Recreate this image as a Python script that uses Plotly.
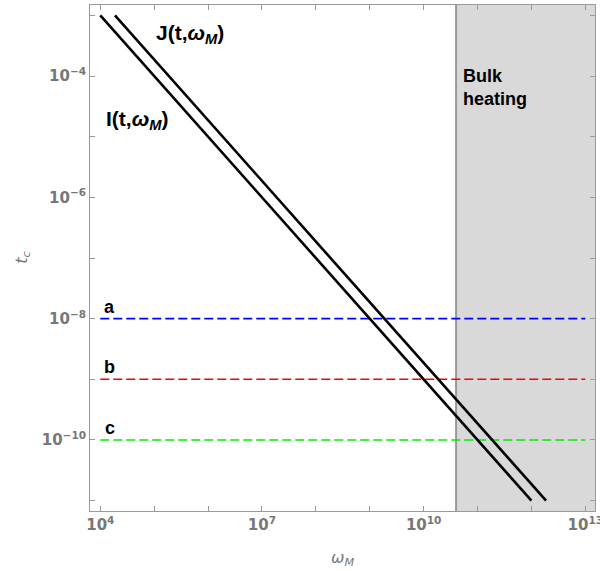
import plotly.graph_objects as go
import math

# ---- data ----
omega_I = [1e4, 1e12]
t_I = [1e-3, 1e-11]
omega_J = [1.87e4, 1.87e12]
t_J = [1e-3, 1e-11]

omega_h = [1e4, 1e13]
t_a = [1e-8, 1e-8]
t_b = [1e-9, 1e-9]
t_c = [1e-10, 1e-10]

omega_bulk = 4e10

x_tickvals = [10**k for k in range(4, 14)]
x_ticktext = ["10<sup>4</sup>", "", "", "10<sup>7</sup>", "", "", "10<sup>10</sup>", "", "", "10<sup>13</sup>"]
y_tickvals = [10**k for k in range(-11, -2)]
y_ticktext = ["", "10<sup>−10</sup>", "", "10<sup>−8</sup>", "", "10<sup>−6</sup>", "", "10<sup>−4</sup>", ""]

fig = go.Figure()

fig.add_shape(type="rect", xref="x", yref="paper", x0=omega_bulk, x1=1e14,
              y0=0, y1=1, fillcolor="#d9d9d9", line_width=0, layer="below")
fig.add_shape(type="line", xref="x", yref="paper", x0=omega_bulk, x1=omega_bulk,
              y0=0, y1=1, line=dict(color="#999999", width=2), layer="below")

for y, col in [(t_a, "#0000ff"), (t_b, "#ff0000"), (t_c, "#00ee00")]:
    fig.add_trace(go.Scatter(x=omega_h, y=y, mode="lines",
                             line=dict(color=col, width=1.6, dash="9px,4px"),
                             showlegend=False, hoverinfo="skip"))

fig.add_trace(go.Scatter(x=omega_I, y=t_I, mode="lines", line=dict(color="black", width=2.6),
                         showlegend=False))
fig.add_trace(go.Scatter(x=omega_J, y=t_J, mode="lines", line=dict(color="black", width=2.6),
                         showlegend=False))

lab_font = dict(family="Liberation Sans, Arial", size=21, color="black", weight="bold")
ann = []
ann.append(dict(x=5.66, y=-3.307, text="J(t,<i>ω<sub>M</sub></i>)", showarrow=False,
                xanchor="center", yanchor="middle", font=lab_font))
ann.append(dict(x=4.685, y=-4.719, text="I(t,<i>ω<sub>M</sub></i>)", showarrow=False,
                xanchor="center", yanchor="middle", font=lab_font))
ann.append(dict(x=10.694, y=-3.796, text="Bulk<br>heating", showarrow=False, align="left",
                xanchor="left", yanchor="top",
                font=dict(family="Liberation Sans, Arial", size=18, color="black", weight="bold")))
for lbl, yy in [("a", t_a[0]), ("b", t_b[0]), ("c", t_c[0])]:
    ann.append(dict(x=4.174, y=math.log10(yy), text=lbl, showarrow=False,
                    xanchor="center", yanchor="bottom",
                    font=dict(family="Liberation Sans, Arial", size=18, color="black", weight="bold")))

# axis titles placed as annotations (paper coords)
title_font = dict(family="DejaVu Sans", size=16, color="#777777")
ann.append(dict(xref="paper", yref="paper", x=0.5, y=-0.094, text="<i>ω<sub>M</sub></i>",
                showarrow=False, xanchor="center", yanchor="middle", font=title_font))
ann.append(dict(xref="paper", yref="paper", x=-0.135, y=0.5, text="<i>t<sub>c</sub></i>",
                showarrow=False, xanchor="center", yanchor="middle", textangle=-90, font=title_font))

tick_font = dict(family="DejaVu Sans", size=15, color="#777777", weight="bold")

fig.update_layout(
    width=600, height=571,
    margin=dict(l=90, r=4.5, t=5, b=60),
    plot_bgcolor="white", paper_bgcolor="white",
    annotations=ann,
    xaxis=dict(type="log", range=[3.809, 13.18], tickvals=x_tickvals, ticktext=x_ticktext,
               ticks="inside", ticklen=5, tickcolor="#999999", showline=True, linecolor="#999999",
               linewidth=1, mirror="allticks", showgrid=False, zeroline=False, tickfont=tick_font,
               automargin=False, ticklabeloverflow="allow"),
    yaxis=dict(type="log", range=[-11.172, -2.828], tickvals=y_tickvals, ticktext=y_ticktext,
               ticks="inside", ticklen=5, tickcolor="#999999", showline=True, linecolor="#999999",
               linewidth=1, mirror="allticks", showgrid=False, zeroline=False, tickfont=tick_font,
               automargin=False, ticklabeloverflow="allow"),
)

fig.write_html("out.html", config={"displayModeBar": False},
               post_script="document.body.style.margin='0';")
